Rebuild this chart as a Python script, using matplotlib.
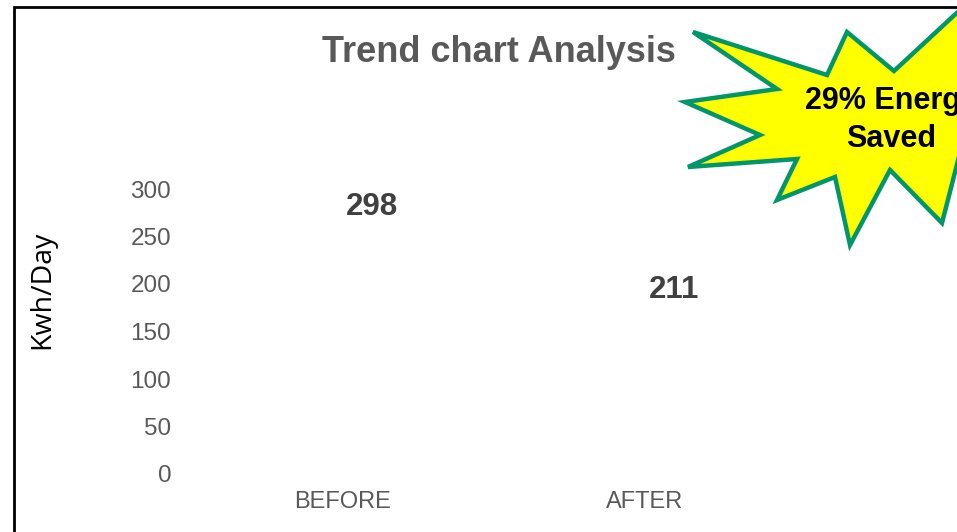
import matplotlib.pyplot as plt
from matplotlib.patches import Polygon, Rectangle

plt.rcParams['font.family'] = ['Liberation Sans', 'DejaVu Sans']

# data
categories = ['BEFORE', 'AFTER']
kwh_per_day = [298, 211]
y_ticks = [0, 50, 100, 150, 200, 250, 300]
saving_text = '29% Energy\nSaved'

W, H = 957, 532
fig = plt.figure(figsize=(W / 100, H / 100), dpi=100)

# axes placed in pixel terms
ax = fig.add_axes([192 / W, 1 - 474 / H, 604 / W, (474 - 189) / H])
x = range(len(categories))
ax.bar(x, kwh_per_day, width=0.5, color='white')
ax.set_xlim(-0.5, 1.5)
ax.set_ylim(0, 300)
ax.set_yticks(y_ticks)
ax.set_xticks(list(x))
ax.set_xticklabels(categories)
for s in ax.spines.values():
    s.set_visible(False)
ax.tick_params(axis='y', length=0, pad=15, labelsize=17.5, labelcolor='#595959')
ax.tick_params(axis='x', length=0, pad=12, labelsize=17, labelcolor='#595959')

# value labels (inside end, a bit to the right)
for i, v in zip(x, kwh_per_day):
    ax.annotate(str(v), (i + 0.095, v), xytext=(0, -16), textcoords='offset pixels',
                ha='center', va='center', fontsize=22.5, fontweight='bold', color='#404040')

fig.text(499 / W, 1 - 52 / H, 'Trend chart Analysis', ha='center', va='center',
         fontsize=26, fontweight='bold', color='#595959')
fig.text(42 / W, 1 - 290 / H, 'Kwh/Day', rotation=90, ha='center', va='center',
         fontsize=20.5, color='black', family=['Open Sans', 'DejaVu Sans'])

# chart border (cut off at right and bottom)
fig.patches.append(Rectangle((14 / W, -0.1), 1.2, 1 - 7 / H + 0.1,
                             transform=fig.transFigure, fill=False,
                             edgecolor='black', linewidth=2))

# starburst callout
star_px = [(693, 32), (827, 75), (847, 32), (894, 71), (975, -4), (965, 75),
           (1030, 110), (962, 145), (942, 223), (890, 170), (850, 245),
           (835, 177), (777, 200), (797, 159), (688, 167), (760, 135),
           (685, 102), (777, 89)]
star = Polygon([(px / W, 1 - py / H) for px, py in star_px], closed=True,
               transform=fig.transFigure, facecolor='#FFFF00',
               edgecolor='#00966B', linewidth=3.2, joinstyle='miter', clip_on=False)
fig.patches.append(star)
fig.text(891 / W, 1 - 120 / H, saving_text, ha='center', va='center',
         fontsize=22, fontweight='bold', color='black', linespacing=1.38)

fig.savefig('out.png', dpi=100)
